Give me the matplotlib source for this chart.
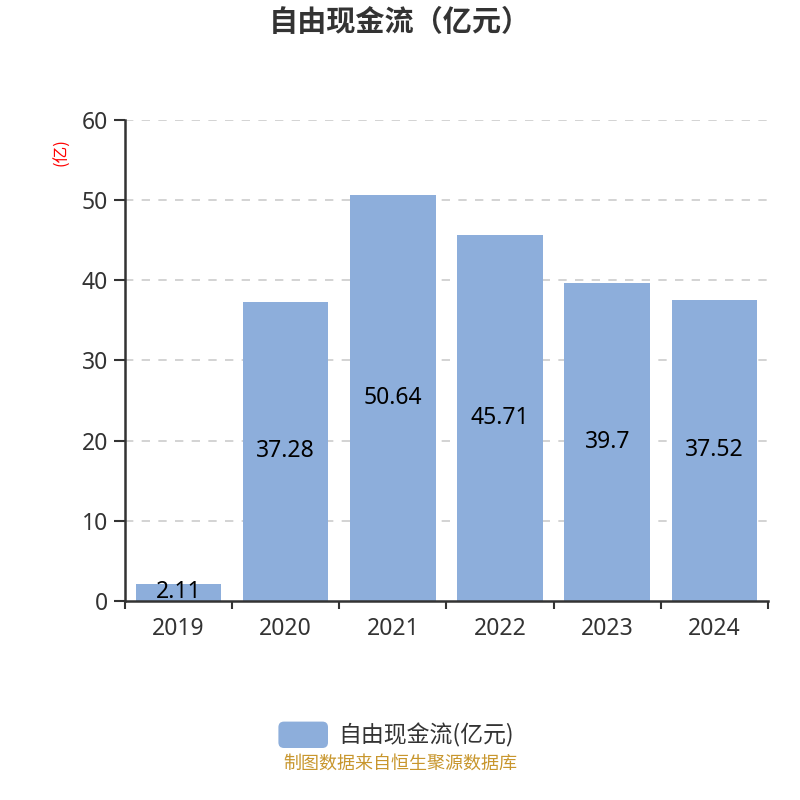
import matplotlib
matplotlib.use("Agg")
import matplotlib.pyplot as plt
from matplotlib.patches import FancyBboxPatch
import numpy as np

plt.rcParams['font.family'] = ['Noto Sans CJK SC', 'DejaVu Sans']
NUM_FONT = ['Noto Sans', 'Noto Sans CJK SC', 'DejaVu Sans']

years = ["2019", "2020", "2021", "2022", "2023", "2024"]
values = [2.11, 37.28, 50.64, 45.71, 39.7, 37.52]
value_labels = ["2.11", "37.28", "50.64", "45.71", "39.7", "37.52"]
yticks = [0, 10, 20, 30, 40, 50, 60]

bar_color = "#8DAEDB"
axis_color = "#333333"

fig = plt.figure(figsize=(8, 8), dpi=100)
ax = fig.add_axes([0.156, 0.249, 0.804, 0.601])

x = np.arange(len(years))
ax.bar(x, values, width=0.8, color=bar_color, zorder=2)
for xi, v, lab in zip(x, values, value_labels):
    ax.text(xi, v / 2, lab, ha="center", va="center", fontsize=16.5, color="black",
            zorder=3, family=NUM_FONT)

ax.set_xlim(-0.5, len(years) - 0.5)
ax.set_ylim(0, 60)
ax.set_yticks(yticks)
ax.set_yticklabels([str(t) for t in yticks], fontsize=16.5, color=axis_color, family=NUM_FONT)
ax.set_xticks(x)
ax.set_xticklabels(years, fontsize=16.5, color=axis_color, family=NUM_FONT)
ax.tick_params(axis="x", length=0, pad=12)
ax.set_xticks(np.arange(-0.5, len(years)), minor=True)
ax.tick_params(axis="x", which="minor", length=6, width=1.5, color=axis_color)
ax.tick_params(axis="y", length=8, width=1.5, color=axis_color, pad=4)

for t in yticks[1:]:
    ax.axhline(t, color="#cccccc", linestyle=(0, (5, 5)), linewidth=1.2, zorder=1)

for s in ["top", "right"]:
    ax.spines[s].set_visible(False)
for s in ["left", "bottom"]:
    ax.spines[s].set_color(axis_color)
    ax.spines[s].set_linewidth(1.8)

fig.text(0.077, 0.81, "(亿)", color="red", fontsize=12, rotation=90,
         ha="center", va="center")

fig.text(0.5, 0.972, "自由现金流（亿元）", ha="center", va="center", fontsize=21,
         fontweight="bold", color="#333333")

# legend
leg = FancyBboxPatch((0.348, 0.065), 0.062, 0.033, boxstyle="round,pad=0,rounding_size=0.007",
                     transform=fig.transFigure, facecolor=bar_color, edgecolor="none")
fig.patches.append(leg)
fig.text(0.423, 0.081, "自由现金流(亿元)", ha="left", va="center", fontsize=16.5, color="#333333")

fig.text(0.5, 0.046, "制图数据来自恒生聚源数据库", ha="center", va="center", fontsize=13,
         color="#C8962D")

fig.savefig("out.png", dpi=100)
